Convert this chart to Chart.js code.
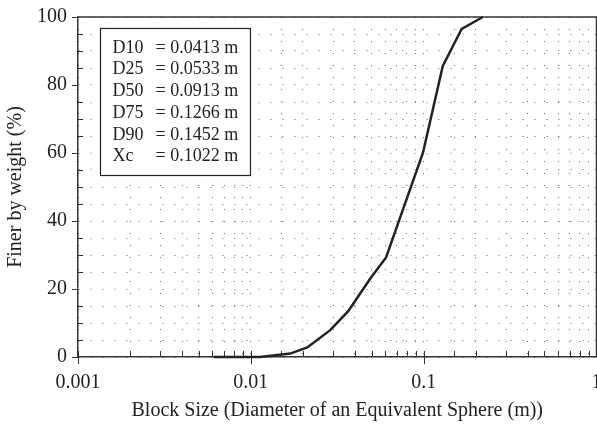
<!DOCTYPE html>
<html>
<head>
<meta charset="utf-8">
<script src="https://cdn.jsdelivr.net/npm/chart.js@4.4.0/dist/chart.umd.min.js"></script>
<style>
  html, body { margin: 0; padding: 0; overflow: hidden; background: #fff; }
  #wrap { width: 615px; height: 431px; margin-top: -6px; }
</style>
</head>
<body>
<div id="wrap"><canvas id="gradation"></canvas></div>
<script>
// grading curve: block size (m) vs. cumulative % finer
const blockSize = [0.0061, 0.0113, 0.0169, 0.0212, 0.0288, 0.0366, 0.049, 0.0606, 0.099, 0.129, 0.166, 0.22];
const finerPct = [0, 0, 1.0, 2.8, 7.9, 13.5, 23, 29.3, 60, 85.6, 96.5, 100];

// characteristic sizes printed in the box
const statNames = ["D10", "D25", "D50", "D75", "D90", "Xc"];
const statValues = ["= 0.0413 m", "= 0.0533 m", "= 0.0913 m", "= 0.1266 m", "= 0.1452 m", "= 0.1022 m"];

const pctLabels = [0, 20, 40, 60, 80, 100];

const FONT = "'Liberation Serif', 'Times New Roman', serif";
const INK = "#222";

const isDecade = v => Math.abs(Math.log10(v) - Math.round(Math.log10(v))) < 1e-6;

// frame, tick marks and the stats box
const decorations = {
  id: "decorations",
  beforeDatasetsDraw(chart) {
    const { ctx, chartArea: a, scales: { x, y } } = chart;
    ctx.save();
    ctx.strokeStyle = "#333";
    ctx.lineWidth = 1.5;
    ctx.beginPath();
    ctx.moveTo(a.left, a.top);
    ctx.lineTo(a.right, a.top);
    ctx.lineTo(a.right, a.bottom);
    ctx.stroke();

    ctx.lineWidth = 1;
    ctx.beginPath();
    y.ticks.forEach(t => {
      const py = Math.round(y.getPixelForValue(t.value)) + 0.5;
      if (pctLabels.includes(t.value)) {
        ctx.moveTo(a.left - 6, py);
        ctx.lineTo(a.left, py);
      } else {
        ctx.moveTo(a.left, py);
        ctx.lineTo(a.left + 5, py);
      }
    });
    x.ticks.forEach(t => {
      const px = Math.round(x.getPixelForValue(t.value)) + 0.5;
      if (isDecade(t.value)) {
        ctx.moveTo(px, a.bottom - 6);
        ctx.lineTo(px, a.bottom + 7);
      } else {
        ctx.moveTo(px, a.bottom - 6);
        ctx.lineTo(px, a.bottom);
      }
    });
    ctx.stroke();
    ctx.restore();
  },
  afterDraw(chart) {
    const { ctx, chartArea: a } = chart;
    const bx = a.left + 22.5, by = a.top + 11.5, bw = 150, bh = 147;
    ctx.save();
    ctx.fillStyle = "#fff";
    ctx.fillRect(bx, by, bw, bh);
    ctx.strokeStyle = "#222";
    ctx.lineWidth = 1.2;
    ctx.strokeRect(bx, by, bw, bh);
    ctx.fillStyle = INK;
    ctx.font = "18px " + FONT;
    ctx.textBaseline = "middle";
    statNames.forEach((name, i) => {
      const ty = by + 19.5 + i * 21.7;
      ctx.fillText(name, bx + 12, ty);
      ctx.fillText(statValues[i], bx + 55, ty);
    });
    ctx.restore();
  }
};

new Chart(document.getElementById("gradation"), {
  type: "line",
  data: {
    datasets: [{
      data: blockSize.map((b, i) => ({ x: b, y: finerPct[i] })),
      borderColor: "#222",
      borderWidth: 2.5,
      pointRadius: 0,
      tension: 0,
      fill: false,
      clip: 4
    }]
  },
  options: {
    responsive: true,
    maintainAspectRatio: false,
    animation: false,
    layout: { padding: { top: 2.5, left: 2, right: 0, bottom: 2 } },
    plugins: { legend: { display: false }, tooltip: { enabled: false } },
    scales: {
      x: {
        type: "logarithmic",
        min: 0.001,
        max: 1,
        grid: { color: "#666", lineWidth: 1, drawTicks: false },
        border: { color: "#333", width: 1.5, dash: [1, 11] },
        ticks: {
          autoSkip: false,
          maxRotation: 0,
          padding: 13.5,
          color: INK,
          font: { family: FONT, size: 20 },
          callback: v => isDecade(v) ? String(v) : ""
        },
        title: {
          display: true,
          text: "Block Size (Diameter of an Equivalent Sphere (m))",
          color: INK,
          font: { family: FONT, size: 20 },
          padding: { top: -9, bottom: 0 }
        }
      },
      y: {
        min: 0,
        max: 100,
        grid: { color: "#666", lineWidth: 1, drawTicks: false },
        border: { color: "#333", width: 1.5, dash: [1, 11] },
        ticks: {
          stepSize: 5,
          autoSkip: false,
          padding: 11,
          color: INK,
          font: { family: FONT, size: 20 },
          callback: v => pctLabels.includes(v) ? String(v) : ""
        },
        title: {
          display: true,
          text: "Finer by weight (%)",
          color: INK,
          font: { family: FONT, size: 20 },
          padding: { top: 2, bottom: -2 }
        }
      }
    }
  },
  plugins: [decorations]
});
</script>
</body>
</html>
